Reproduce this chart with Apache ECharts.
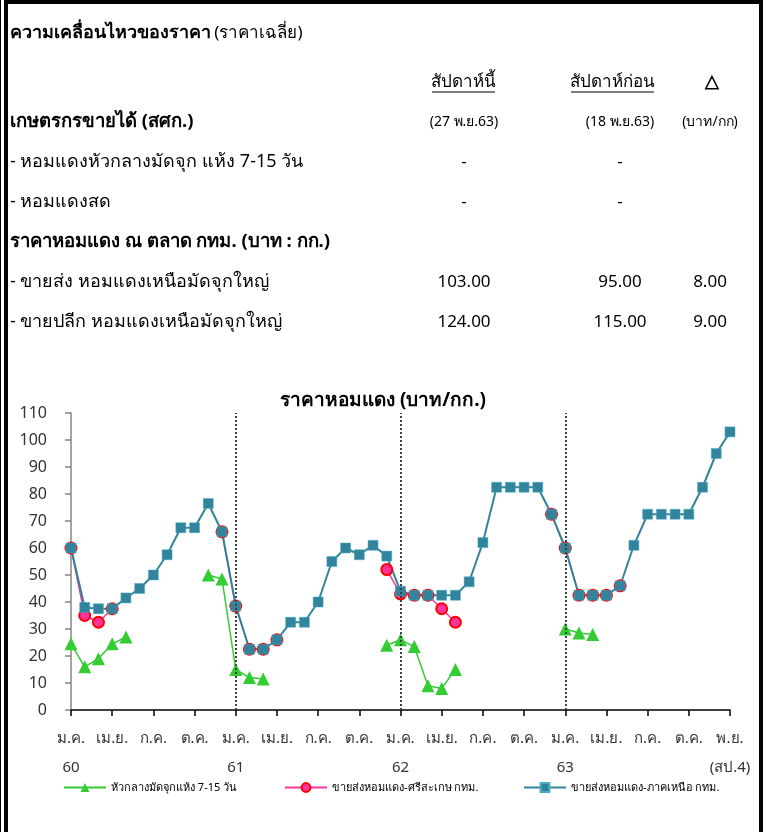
<!DOCTYPE html>
<html>
<head>
<meta charset="utf-8">
<script src="https://cdn.jsdelivr.net/npm/echarts@6/dist/echarts.min.js"></script>
<style>
  html, body { margin: 0; padding: 0; background: #fff; }
  #main { width: 766px; height: 832px; }
</style>
</head>
<body>
<div id="main"></div>
<script>
  // หมวดหมู่รายเดือน ม.ค.60 - ต.ค.63 และรายสัปดาห์ พ.ย.63
  var months = ['ม.ค.', 'ก.พ.', 'มี.ค.', 'เม.ย.', 'พ.ค.', 'มิ.ย.', 'ก.ค.', 'ส.ค.', 'ก.ย.', 'ต.ค.', 'พ.ย.', 'ธ.ค.']
  var years = ['60', '61', '62', '63']
  var weeks = ['พ.ย. สป.2', 'พ.ย. สป.3', 'พ.ย. สป.4']

  // ป้ายแกน x (ทุก 3 ช่อง) และป้ายปี (ทุก 12 ช่อง)
  var monthTicks = ['ม.ค.', 'เม.ย.', 'ก.ค.', 'ต.ค.', 'ม.ค.', 'เม.ย.', 'ก.ค.', 'ต.ค.', 'ม.ค.', 'เม.ย.', 'ก.ค.', 'ต.ค.', 'ม.ค.', 'เม.ย.', 'ก.ค.', 'ต.ค.', 'พ.ย.']
  var yearTicks = ['60', '61', '62', '63', '(สป.4)']

  // หัวกลางมัดจุกแห้ง 7-15 วัน
  var dryBulb = [24.5, 16, 19, 24.5, 27, null, null, null, null, null, 50, 48.5, 15, 12, 11.5,
    null, null, null, null, null, null, null, null, 24, 26, 23.5, 9, 8, 15,
    null, null, null, null, null, null, null, 30, 28.5, 28,
    null, null, null, null, null, null, null, null, null, null]
  // ขายส่งหอมแดง-ศรีสะเกษ กทม.
  var sisaket = [60, 35, 32.5, 37.5, null, null, null, null, null, null, null, 66, 38.5, 22.5, 22.5, 26,
    null, null, null, null, null, null, null, 52, 43, 42.5, 42.5, 37.5, 32.5,
    null, null, null, null, null, null, 72.5, 60, 42.5, 42.5, 42.5, 46,
    null, null, null, null, null, null, null, null]
  // ขายส่งหอมแดง-ภาคเหนือ กทม.
  var north = [60, 38, 37.5, 37.5, 41.5, 45, 50, 57.5, 67.5, 67.5, 76.5, 66, 38.5, 22.5, 22.5, 26,
    32.5, 32.5, 40, 55, 60, 57.5, 61, 57, 44, 42.5, 42.5, 42.5, 42.5, 47.5, 62,
    82.5, 82.5, 82.5, 82.5, 72.5, 60, 42.5, 42.5, 42.5, 46, 61, 72.5, 72.5, 72.5, 72.5,
    82.5, 95, 103]

  var seriesNames = ['หัวกลางมัดจุกแห้ง 7-15 วัน', 'ขายส่งหอมแดง-ศรีสะเกษ กทม.', 'ขายส่งหอมแดง-ภาคเหนือ กทม.']

  // ตารางด้านบน
  var tableRows = [
    { label: 'เกษตรกรขายได้ (สศก.)', bold: true, cur: '(27 พ.ย.63)', prev: '(18 พ.ย.63)', diff: '(บาท/กก)', small: true },
    { label: '- หอมแดงหัวกลางมัดจุก แห้ง 7-15 วัน', cur: '-', prev: '-', diff: '' },
    { label: '- หอมแดงสด', cur: '-', prev: '-', diff: '' },
    { label: 'ราคาหอมแดง ณ ตลาด กทม. (บาท : กก.)', bold: true, cur: '', prev: '', diff: '' },
    { label: '- ขายส่ง หอมแดงเหนือมัดจุกใหญ่', cur: '103.00', prev: '95.00', diff: '8.00' },
    { label: '- ขายปลีก หอมแดงเหนือมัดจุกใหญ่', cur: '124.00', prev: '115.00', diff: '9.00' }
  ]

  var categories = []
  years.forEach(function (y) {
    months.forEach(function (m) { categories.push(m + ' ' + y) })
  })
  categories = categories.slice(0, 46).concat(weeks)

  var FONT = 'Tahoma, "Noto Sans", sans-serif'
  var textColor = '#000'

  var graphics = [
    { type: 'line', shape: { x1: 0.5, y1: 0, x2: 0.5, y2: 832 }, style: { stroke: '#000', lineWidth: 1 } },
    { type: 'rect', shape: { x: 4, y: 0, width: 4, height: 832 }, style: { fill: '#000' } },
    { type: 'rect', shape: { x: 4, y: 0, width: 759, height: 4 }, style: { fill: '#000' } },
    { type: 'rect', shape: { x: 759, y: 0, width: 4, height: 832 }, style: { fill: '#000' } },
    {
      type: 'text', x: 10, y: 33,
      style: {
        text: '{b|ความเคลื่อนไหวของราคา} {n|(ราคาเฉลี่ย)}',
        fill: textColor,
        textVerticalAlign: 'middle',
        rich: {
          b: { font: 'bold 18px ' + FONT, fill: textColor },
          n: { font: '17px ' + FONT, fill: textColor }
        }
      }
    },
    {
      type: 'text', x: 463, y: 82,
      style: { text: 'สัปดาห์นี้', font: '17px ' + FONT, fill: textColor, textAlign: 'center', textVerticalAlign: 'middle' }
    },
    { type: 'line', shape: { x1: 432, y1: 92, x2: 495, y2: 92 }, style: { stroke: '#000', lineWidth: 1 } },
    {
      type: 'text', x: 612, y: 82,
      style: { text: 'สัปดาห์ก่อน', font: '17px ' + FONT, fill: textColor, textAlign: 'center', textVerticalAlign: 'middle' }
    },
    { type: 'line', shape: { x1: 571, y1: 92, x2: 654, y2: 92 }, style: { stroke: '#000', lineWidth: 1 } },
    {
      type: 'text', x: 712, y: 82,
      style: { text: '△', font: 'bold 18px ' + FONT, fill: textColor, textAlign: 'center', textVerticalAlign: 'middle' }
    }
  ]

  tableRows.forEach(function (r, i) {
    var y = 122 + i * 40
    var sz = r.small ? '14px ' : '17px '
    graphics.push({
      type: 'text', x: 10, y: y,
      style: { text: r.label, font: (r.bold ? 'bold 18.5px ' : '18px ') + FONT, fill: textColor, textVerticalAlign: 'middle' }
    })
    graphics.push({
      type: 'text', x: 464, y: y,
      style: { text: r.cur, font: sz + FONT, fill: textColor, textAlign: 'center', textVerticalAlign: 'middle' }
    })
    graphics.push({
      type: 'text', x: 620, y: y,
      style: { text: r.prev, font: sz + FONT, fill: textColor, textAlign: 'center', textVerticalAlign: 'middle' }
    })
    graphics.push({
      type: 'text', x: 710, y: y,
      style: { text: r.diff, font: sz + FONT, fill: textColor, textAlign: 'center', textVerticalAlign: 'middle' }
    })
  })

  var chart = echarts.init(document.getElementById('main'), null, { renderer: 'canvas' })
  chart.setOption({
    backgroundColor: '#fff',
    animation: false,
    textStyle: { fontFamily: FONT },
    title: {
      text: 'ราคาหอมแดง (บาท/กก.)',
      left: 'center',
      top: 386,
      textStyle: { fontSize: 19, fontWeight: 'bold', color: '#000', fontFamily: FONT }
    },
    legend: [
      { data: [seriesNames[0]], left: 58, top: 777 },
      { data: [seriesNames[1]], left: 279, top: 777 },
      { data: [seriesNames[2]], left: 518, top: 777 }
    ].map(function (l) {
      l.itemWidth = 42
      l.itemHeight = 11
      l.itemGap = 5
      l.textStyle = { fontSize: 11, color: '#000', fontFamily: FONT }
      return l
    }),
    grid: { left: 71, right: 36, top: 413, height: 297 },
    xAxis: [{
      type: 'category',
      data: categories,
      boundaryGap: false,
      axisLine: { lineStyle: { color: '#000', width: 1.5 } },
      axisTick: { interval: 2, length: 6, lineStyle: { color: '#000', width: 1.5 } },
      axisLabel: {
        interval: 2,
        margin: 21,
        fontSize: 15,
        color: '#333',
        formatter: function (v, i) { return monthTicks[i / 3] }
      }
    }, {
      type: 'category',
      data: categories,
      position: 'bottom',
      boundaryGap: false,
      offset: 29,
      axisLine: { show: false },
      axisTick: { show: false },
      axisLabel: {
        interval: 11,
        margin: 21,
        fontSize: 15,
        color: '#333',
        formatter: function (v, i) { return yearTicks[i / 12] }
      }
    }],
    yAxis: {
      type: 'value',
      min: 0,
      max: 110,
      interval: 10,
      splitLine: { show: false },
      axisLine: { show: true, lineStyle: { color: '#868686', width: 1.5 } },
      axisTick: { show: true, length: 6, lineStyle: { color: '#868686', width: 1.5 } },
      axisLabel: { fontSize: 16, color: '#333', margin: 24 }
    },
    graphic: graphics,
    series: [{
      name: seriesNames[0],
      type: 'line',
      data: dryBulb,
      symbol: 'triangle',
      symbolSize: 13,
      showAllSymbol: true,
      connectNulls: false,
      lineStyle: { color: '#33CC33', width: 1.5 },
      itemStyle: { color: '#33CC33' },
      markLine: {
        silent: true,
        symbol: 'none',
        label: { show: false },
        lineStyle: { color: '#404040', type: 'dotted', width: 2 },
        data: [{ xAxis: categories[12] }, { xAxis: categories[24] }, { xAxis: categories[36] }]
      }
    }, {
      name: seriesNames[1],
      type: 'line',
      data: sisaket,
      symbol: 'circle',
      symbolSize: 11,
      showAllSymbol: true,
      connectNulls: false,
      lineStyle: { color: '#FF3399', width: 1.5 },
      itemStyle: { color: '#FF3399', borderColor: '#FF0000', borderWidth: 2 }
    }, {
      name: seriesNames[2],
      type: 'line',
      data: north,
      symbol: 'rect',
      symbolSize: 10,
      showAllSymbol: true,
      connectNulls: false,
      lineStyle: { color: '#31849B', width: 2 },
      itemStyle: { color: '#31849B', borderColor: '#4BACC6', borderWidth: 0.5 }
    }]
  })
</script>
</body>
</html>
